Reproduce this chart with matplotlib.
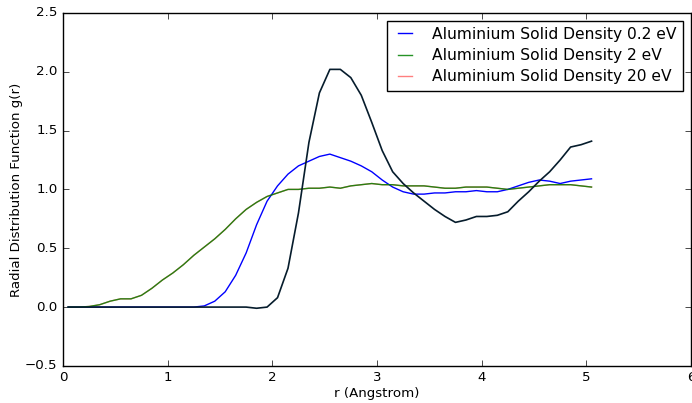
import numpy as np
import matplotlib
matplotlib.use("Agg")
import matplotlib.pyplot as plt

plt.style.use('classic')
plt.rcParams['figure.facecolor'] = 'white'
plt.rcParams['savefig.facecolor'] = 'white'
plt.rcParams['font.family'] = ['DejaVu Sans']

# radius grid (Angstrom)
r = [0.05, 0.15, 0.25, 0.35, 0.45, 0.55, 0.65, 0.75, 0.85, 0.95,
     1.05, 1.15, 1.25, 1.35, 1.45, 1.55, 1.65, 1.75, 1.85, 1.95,
     2.05, 2.15, 2.25, 2.35, 2.45, 2.55, 2.65, 2.75, 2.85, 2.95,
     3.05, 3.15, 3.25, 3.35, 3.45, 3.55, 3.65, 3.75, 3.85, 3.95,
     4.05, 4.15, 4.25, 4.35, 4.45, 4.55, 4.65, 4.75, 4.85, 4.95, 5.05]

g_cold = [0, 0, 0, 0, 0, 0, 0, 0, 0, 0,
          0, 0, 0, 0, 0, 0, 0, 0, -0.01, 0.0,
          0.08, 0.33, 0.80, 1.40, 1.82, 2.02, 2.02, 1.95, 1.80, 1.57,
          1.33, 1.15, 1.05, 0.97, 0.90, 0.83, 0.77, 0.72, 0.74, 0.77,
          0.77, 0.78, 0.81, 0.90, 0.98, 1.07, 1.15, 1.25, 1.36, 1.38, 1.41]

g_02 = [0, 0, 0, 0, 0, 0, 0, 0, 0, 0,
        0, 0, 0, 0.01, 0.05, 0.13, 0.27, 0.46, 0.70, 0.90,
        1.03, 1.13, 1.20, 1.24, 1.28, 1.30, 1.27, 1.24, 1.20, 1.15,
        1.08, 1.02, 0.98, 0.96, 0.96, 0.97, 0.97, 0.98, 0.98, 0.99,
        0.98, 0.98, 1.00, 1.03, 1.06, 1.08, 1.07, 1.05, 1.07, 1.08, 1.09]

g_2 = [0, 0, 0.005, 0.02, 0.05, 0.07, 0.07, 0.10, 0.16, 0.23,
       0.29, 0.36, 0.44, 0.51, 0.58, 0.66, 0.75, 0.83, 0.89, 0.94,
       0.97, 1.00, 1.00, 1.01, 1.01, 1.02, 1.01, 1.03, 1.04, 1.05,
       1.04, 1.04, 1.03, 1.03, 1.03, 1.02, 1.01, 1.01, 1.02, 1.02,
       1.02, 1.01, 1.00, 1.01, 1.02, 1.03, 1.04, 1.04, 1.04, 1.03, 1.02]

g_20 = [0, 0, 0.005, 0.02, 0.05, 0.07, 0.07, 0.10, 0.16, 0.23,
        0.29, 0.36, 0.44, 0.51, 0.58, 0.66, 0.75, 0.83, 0.89, 0.94,
        0.97, 1.00, 1.00, 1.01, 1.01, 1.02, 1.01, 1.03, 1.04, 1.05,
        1.04, 1.04, 1.03, 1.03, 1.03, 1.02, 1.01, 1.01, 1.02, 1.02,
        1.02, 1.01, 1.00, 1.01, 1.02, 1.03, 1.04, 1.04, 1.04, 1.03, 1.02]

fig = plt.figure(figsize=(6.92, 4.03), dpi=100)
ax = fig.add_axes([0.091, 0.092, 0.9075, 0.876])

ax.plot(r, g_20, color='red', lw=1.0, alpha=0.5, zorder=2, label='Aluminium Solid Density 20 eV')
ax.plot(r, g_02, color='blue', lw=1.0, zorder=3, label='Aluminium Solid Density 0.2 eV')
ax.plot(r, g_2, color='green', lw=1.0, alpha=0.85, zorder=3, label='Aluminium Solid Density 2 eV')
ax.plot(r, g_cold, color='#061c2c', lw=1.2, zorder=4)

ax.set_xlim(0, 6)
ax.set_ylim(-0.5, 2.5)
ax.set_xlabel('r (Angstrom)', fontsize=9.6, labelpad=1.5)
ax.set_ylabel('Radial Distribution Function g(r)', fontsize=9.6, labelpad=1.5)
ax.tick_params(labelsize=9.6)

h, l = ax.get_legend_handles_labels()
order = [1, 2, 0]
ax.legend([h[i] for i in order], [l[i] for i in order], loc='upper right',
          fontsize=11.2, borderaxespad=0.5, handlelength=1.5, handletextpad=1.0,
          labelspacing=0.4)

fig.savefig('out.png', dpi=100)
